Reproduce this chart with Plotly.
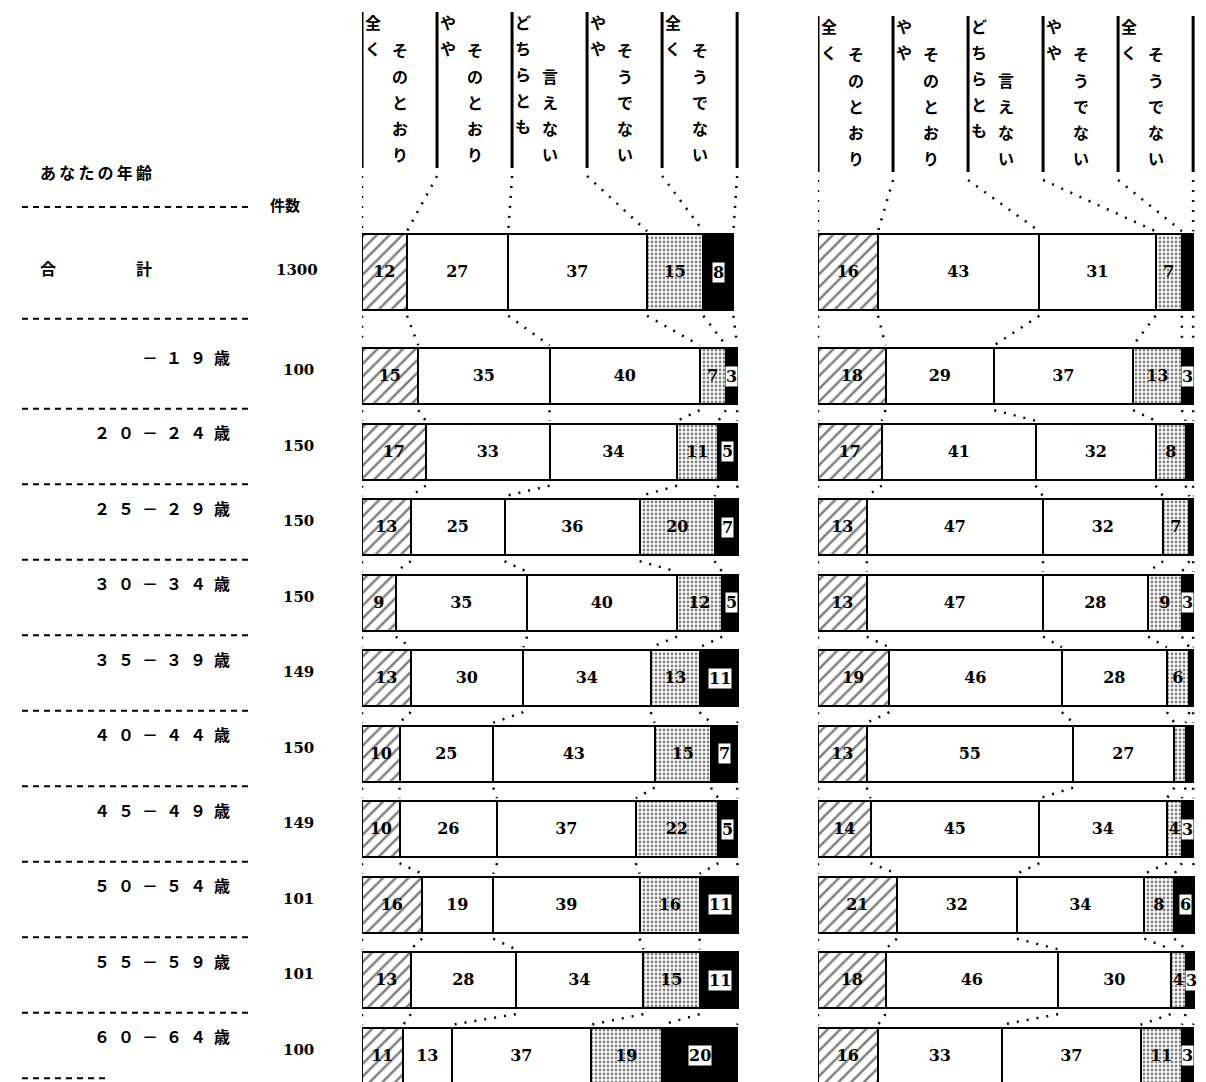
import plotly.graph_objects as go

# column headings (small left column + main column, written vertically)
HEAD_SMALL = ["全く", "やや", "どちらとも", "やや", "全く"]
HEAD_MAIN = ["そのとおり", "そのとおり", "言えない", "そうでない", "そうでない"]

AGES = ["合計", "－１９歳", "２０－２４歳", "２５－２９歳", "３０－３４歳", "３５－３９歳",
        "４０－４４歳", "４５－４９歳", "５０－５４歳", "５５－５９歳", "６０－６４歳"]
COUNTS = [1300, 100, 150, 150, 150, 149, 150, 149, 101, 101, 100]

# left panel, % per answer
L1 = [12, 15, 17, 13, 9, 13, 10, 10, 16, 13, 11]
L2 = [27, 35, 33, 25, 35, 30, 25, 26, 19, 28, 13]
L3 = [37, 40, 34, 36, 40, 34, 43, 37, 39, 34, 37]
L4 = [15, 7, 11, 20, 12, 13, 15, 22, 16, 15, 19]
L5 = [8, 3, 5, 7, 5, 11, 7, 5, 11, 11, 20]

# right panel, % per answer
R1 = [16, 18, 17, 13, 13, 19, 13, 14, 21, 18, 16]
R2 = [43, 29, 41, 47, 47, 46, 55, 45, 32, 46, 33]
R3 = [31, 37, 32, 32, 28, 28, 27, 34, 34, 30, 37]
R4 = [7, 13, 8, 7, 9, 6, 3, 4, 8, 4, 11]
R5 = [3, 3, 2, 1, 3, 1, 2, 3, 6, 3, 3]
# segments printed without a number (row, answer)
R_UNLABELED = {(0, 4), (2, 4), (3, 4), (5, 4), (6, 3), (6, 4)}

# page body has an 8px margin, so the figure sits at (8, 8) in the window
OFF = 8
FW, FH = 1206 - OFF, 1082 - OFF
PX0, PITCH = 272, 75.5          # window-pixel centre of first row, row pitch


def yu(px):
    return (px - PX0) / PITCH


def xp(px):
    return (px - OFF) / FW


n = len(AGES)
ROW_Y = [0] + [i + 0.38 for i in range(1, n)]
WIDTHS = [1.0] + [0.74] * (n - 1)

styles = [
    dict(color="white", pattern=dict(shape="/", fgcolor="black", bgcolor="white", size=9, solidity=0.28)),
    dict(color="white"),
    dict(color="white"),
    dict(color="white", pattern=dict(shape=".", fgcolor="black", bgcolor="white", size=4, solidity=0.38)),
    dict(color="black"),
]

NUM_FONT = dict(family="DejaVu Serif", size=16, color="black", weight="bold")
JP_FONT = dict(family="Noto Sans CJK JP", size=16, color="black", weight="bold")

fig = go.Figure()
shapes = []
annots = []

panels = [("x", [L1, L2, L3, L4, L5], set(), 0), ("x2", [R1, R2, R3, R4, R5], R_UNLABELED, 4)]

for xa, series, unlabeled, hoff in panels:
    for k, vals in enumerate(series):
        labels = []
        for i, v in enumerate(vals):
            if k == 4 or (i, k) in unlabeled:
                labels.append("")
            else:
                labels.append(str(v))
        fig.add_trace(go.Bar(
            x=vals, y=ROW_Y, width=WIDTHS, orientation="h",
            marker=dict(**styles[k], line=dict(color="black", width=2.5)),
            text=labels, textposition="inside", insidetextanchor="middle",
            textfont=NUM_FONT, xaxis=xa, yaxis="y",
            showlegend=False, hoverinfo="skip",
        ))

    # cumulative boundaries per row
    bounds = []
    for i in range(n):
        b = [0]
        for vals in series:
            b.append(b[-1] + vals[i])
        bounds.append(b)

    # numbers in the black segment, on a white patch
    for i in range(n):
        if (i, 4) in unlabeled:
            continue
        v = series[4][i]
        annots.append(dict(x=bounds[i][4] + v / 2, y=ROW_Y[i], xref=xa, yref="y",
                           text=str(v), showarrow=False, font=NUM_FONT,
                           bgcolor="white", borderpad=0))

    dot = dict(color="black", width=2.5, dash="2px,8px")
    # header dividers and dotted lines to first bar
    for k in range(6):
        shapes.append(dict(type="line", xref=xa, yref="y", x0=20 * k, x1=20 * k,
                           y0=yu(12 + hoff), y1=yu(168 + hoff),
                           line=dict(color="black", width=3)))
        shapes.append(dict(type="line", xref=xa, yref="y", x0=20 * k, x1=bounds[0][k],
                           y0=yu(176 + hoff), y1=ROW_Y[0] - WIDTHS[0] / 2 - 0.04, line=dot))
    # dotted connectors between rows
    for i in range(n - 1):
        for k in range(6):
            shapes.append(dict(type="line", xref=xa, yref="y",
                               x0=bounds[i][k], x1=bounds[i + 1][k],
                               y0=ROW_Y[i] + WIDTHS[i] / 2 + 0.08,
                               y1=ROW_Y[i + 1] - WIDTHS[i + 1] / 2 - 0.04, line=dot))

    # vertical header text, one character at a time
    step = 26 / PITCH
    for k in range(5):
        for j, ch in enumerate(HEAD_SMALL[k]):
            annots.append(dict(x=20 * k + 3.0, y=yu(22 + hoff) + j * step, xref=xa, yref="y",
                               text=ch, showarrow=False, font=JP_FONT))
        main = HEAD_MAIN[k]
        for j, ch in enumerate(main):
            jj = j + 5 - len(main)
            annots.append(dict(x=20 * k + 10.0, y=yu(50 + hoff) + jj * step, xref=xa, yref="y",
                               text=ch, showarrow=False, font=JP_FONT))

# left side labels
sep = dict(color="black", width=2, dash="6px,5px")
seps = [yu(207)] + [(ROW_Y[i] + ROW_Y[i + 1]) / 2 - 0.07 for i in range(n - 1)]
for s in seps:
    shapes.append(dict(type="line", xref="paper", yref="y", x0=xp(22), x1=xp(250),
                       y0=s, y1=s, line=sep))
shapes.append(dict(type="line", xref="paper", yref="y", x0=xp(22), x1=xp(108),
                   y0=ROW_Y[-1] + 0.3, y1=ROW_Y[-1] + 0.3, line=sep))

annots.append(dict(x=xp(38), y=yu(172), xref="paper", yref="y", xanchor="left",
                   text="\u2009".join("あなたの年齢"), showarrow=False,
                   font=dict(JP_FONT, size=16)))
annots.append(dict(x=xp(268), y=yu(204), xref="paper", yref="y", xanchor="left",
                   text="件数", showarrow=False, font=dict(JP_FONT, size=15)))

AGE_FONT = dict(family="Noto Sans CJK JP", size=16, color="black", weight="bold")
CNT_FONT = dict(family="DejaVu Serif", size=15, color="black", weight="bold")
for i, (age, cnt) in enumerate(zip(AGES, COUNTS)):
    if i == 0:
        annots.append(dict(x=xp(38), y=ROW_Y[i] - 0.05, xref="paper", yref="y", xanchor="left",
                           text=age[0] + "\u3000" * 5 + age[1], showarrow=False, font=AGE_FONT))
        annots.append(dict(x=xp(320), y=ROW_Y[i] - 0.03, xref="paper", yref="y", xanchor="right",
                           text=str(cnt), showarrow=False, font=CNT_FONT))
    else:
        annots.append(dict(x=xp(232), y=ROW_Y[i] - 0.26, xref="paper", yref="y", xanchor="right",
                           text="\u2002".join(age), showarrow=False, font=AGE_FONT))
        annots.append(dict(x=xp(316), y=ROW_Y[i] - 0.08, xref="paper", yref="y", xanchor="right",
                           text=str(cnt), showarrow=False, font=CNT_FONT))

fig.update_layout(
    width=FW, height=FH, margin=dict(l=0, r=0, t=0, b=0),
    paper_bgcolor="white", plot_bgcolor="white",
    barmode="stack", bargap=0,
    uniformtext=dict(minsize=16, mode="show"),
    xaxis=dict(domain=[xp(362), xp(739)], range=[0, 100.5], visible=False, anchor="y"),
    xaxis2=dict(domain=[xp(818), xp(1195)], range=[0, 100.5], visible=False, anchor="y"),
    yaxis=dict(domain=[0, 1], range=[yu(OFF + FH), yu(OFF)], visible=False, anchor="x"),
    shapes=shapes, annotations=annots,
)

fig.write_html("out.html")
